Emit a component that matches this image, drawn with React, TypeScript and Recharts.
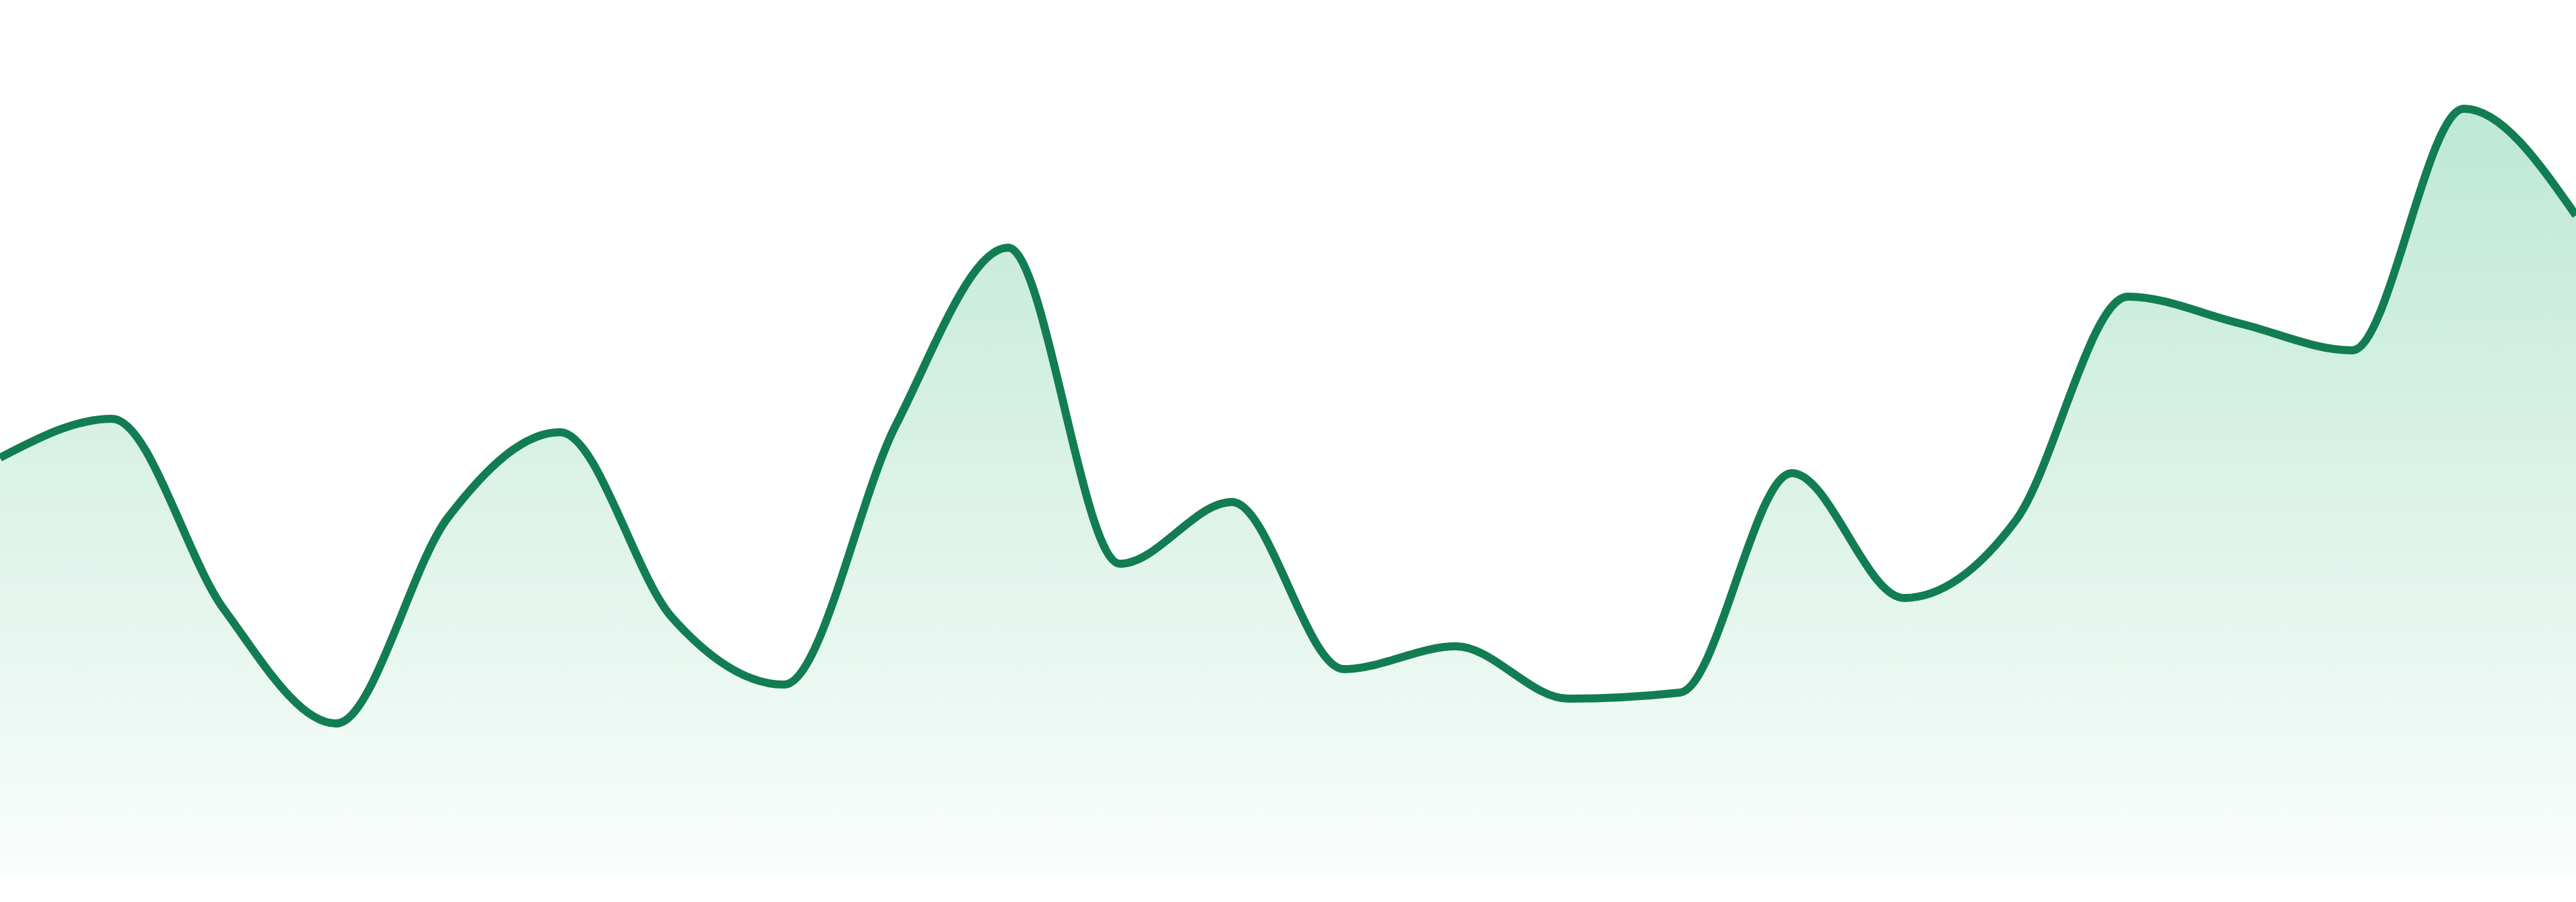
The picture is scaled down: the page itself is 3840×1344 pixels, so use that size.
import { AreaChart, Area, XAxis, YAxis } from 'recharts';

const DAYS = [
  'D01', 'D02', 'D03', 'D04', 'D05', 'D06', 'D07', 'D08', 'D09', 'D10', 'D11', 'D12',
  'D13', 'D14', 'D15', 'D16', 'D17', 'D18', 'D19', 'D20', 'D21', 'D22', 'D23', 'D24',
];

const VALUES = [
  62.3, 68.1, 39.7, 22.7, 53.4, 66.1, 38.5, 28.5, 67.2, 93.6, 46.5, 55.7,
  30.8, 34.2, 26.4, 27.3, 60.0, 41.4, 53.0, 86.3, 82.3, 78.3, 114.3, 98.4,
];

const Y_DOMAIN = [0, 130.5];

const LINE_COLOR = '#127d52';
const FILL_COLOR = '#27b276';

export default function App() {
  const data = DAYS.map((day, i) => ({ day, value: VALUES[i] }));

  return (
    <div style={{ position: 'absolute', left: 0, top: 0, width: 3840, height: 1344, background: '#fff' }}>
      <AreaChart width={3840} height={1344} data={data} margin={{ top: 0, right: 0, bottom: 39, left: 0 }}>
        <defs>
          <linearGradient id="areaFill" x1="0" y1="0" x2="0" y2="1">
            <stop offset="0%" stopColor={FILL_COLOR} stopOpacity={0.5} />
            <stop offset="100%" stopColor={FILL_COLOR} stopOpacity={0.04} />
          </linearGradient>
        </defs>
        <XAxis dataKey="day" hide />
        <YAxis hide domain={Y_DOMAIN} />
        <Area
          type="monotone"
          dataKey="value"
          stroke={LINE_COLOR}
          strokeWidth={12}
          fill="url(#areaFill)"
          dot={false}
          activeDot={false}
          isAnimationActive={false}
        />
      </AreaChart>
    </div>
  );
}
